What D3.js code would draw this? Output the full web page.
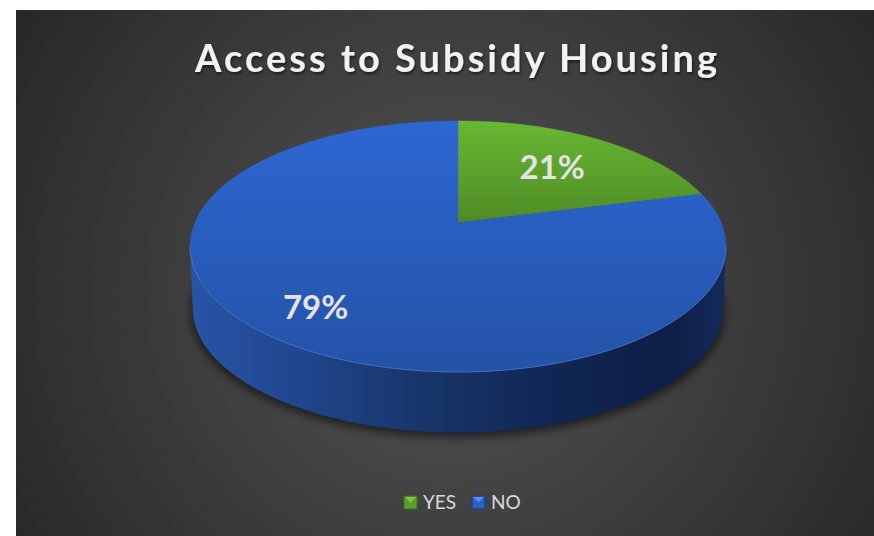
<!DOCTYPE html>
<html><head><meta charset="utf-8">
<script src="https://cdn.jsdelivr.net/npm/d3@7"></script>
<style>html,body{margin:0;padding:0;background:#fff;} svg{display:block;}</style>
</head><body>
<svg id="chart" width="874" height="536"></svg>
<script>
const chartTitle = "Access to Subsidy Housing";
const categories = ["YES", "NO"];
const values = [21, 79];
const percentLabels = ["21%", "79%"];

// ---- style / layout (not data) ----
const W = 874, H = 536;
const P = {cx: 458, cy: 222.7, a: 263.1, b: 121, k: 0.1896, depth: 62, bs: 0.99};
const labelRadius = [0.64, 0.78];
const topColors = {YES: ["#68b833", "#4e8a25"], NO: ["#2d67d2", "#2452a7"]};

const svg = d3.select("#chart");
const defs = svg.append("defs");

// background
const bg = defs.append("radialGradient").attr("id", "bg")
  .attr("gradientUnits", "userSpaceOnUse").attr("cx", 450).attr("cy", 290).attr("r", 540);
bg.append("stop").attr("offset", 0).attr("stop-color", "#555555");
bg.append("stop").attr("offset", 1).attr("stop-color", "#252525");
svg.append("rect").attr("x", 16).attr("y", 10).attr("width", W - 16).attr("height", H - 10).attr("fill", "url(#bg)");

// filters
const sh = defs.append("filter").attr("id", "blur").attr("x", "-20%").attr("y", "-20%").attr("width", "140%").attr("height", "140%");
sh.append("feGaussianBlur").attr("stdDeviation", 4);
const ts = defs.append("filter").attr("id", "tshadow").attr("x", "-10%").attr("y", "-30%").attr("width", "120%").attr("height", "160%");
ts.append("feDropShadow").attr("dx", 1).attr("dy", 2).attr("stdDeviation", 1.5).attr("flood-color", "#000").attr("flood-opacity", 0.55);

// gradients for top faces
Object.entries(topColors).forEach(([key, c]) => {
  const g = defs.append("linearGradient").attr("id", "top" + key)
    .attr("gradientUnits", "userSpaceOnUse").attr("x1", 0).attr("x2", 0)
    .attr("y1", 121).attr("y2", key === "YES" ? 225 : 372);
  g.append("stop").attr("offset", 0).attr("stop-color", c[0]);
  g.append("stop").attr("offset", 1).attr("stop-color", c[1]);
});
const sideStops = {
  NO: [[0, "#2854a8"], [0.2, "#2249956"], [0.45, "#173468"], [0.7, "#102552"], [0.9, "#0e1f46"], [1, "#142a5c"]],
  YES: [[0, "#4e8a25"], [0.5, "#3a6a1c"], [1, "#2c5414"]]
};
sideStops.NO[1][1] = "#21468e";
Object.entries(sideStops).forEach(([key, st]) => {
  const g = defs.append("linearGradient").attr("id", "side" + key)
    .attr("gradientUnits", "userSpaceOnUse").attr("x1", 190).attr("x2", 726).attr("y1", 0).attr("y2", 0);
  st.forEach(s => g.append("stop").attr("offset", s[0]).attr("stop-color", s[1]));
});

function proj(t, r, bottom) {
  const u = r * Math.sin(t), v = r * Math.cos(t), d = 1 + P.k * v;
  const s = bottom ? P.bs : 1;
  return [P.cx + s * P.a * u / d, P.cy - s * P.b * v / d + (bottom ? P.depth : 0)];
}
function samples(t0, t1) {
  const n = Math.max(2, Math.ceil(Math.abs(t1 - t0) / 0.01));
  return d3.range(n + 1).map(i => t0 + (t1 - t0) * i / n);
}
const line = d3.line().curve(d3.curveLinear);

const pie = d3.pie().sort(null).value(d => d.value);
const arcs = pie(categories.map((c, i) => ({cat: c, value: values[i], label: percentLabels[i]})));

// silhouette angles
const kk = P.k, sq = Math.sqrt(1 - kk * kk);
const tR = Math.atan2(sq, -kk);            // right tangent
const tL = 2 * Math.PI - tR;               // left tangent

// shadow
const shadowPts = samples(0, 2 * Math.PI).map(t => { const p = proj(t, 1.005, true); return [p[0], p[1] + 4]; });
svg.append("path").attr("d", line(shadowPts) + "Z").attr("fill", "#000").attr("opacity", 0.55).attr("filter", "url(#blur)");

// sides
const gSide = svg.append("g");
arcs.forEach(a => {
  const t0 = Math.max(a.startAngle, tR), t1 = Math.min(a.endAngle, tL);
  if (t1 <= t0) return;
  const topPts = samples(t0, t1).map(t => proj(t, 1, false));
  const botPts = samples(t1, t0).map(t => proj(t, 1, true));
  gSide.append("path").attr("d", line(topPts.concat(botPts)) + "Z")
    .attr("fill", "url(#side" + a.data.cat + ")");
});

// top faces
const gTop = svg.append("g");
arcs.forEach(a => {
  const pts = [proj(0, 0, false)].concat(samples(a.startAngle, a.endAngle).map(t => proj(t, 1, false)));
  gTop.append("path").attr("d", line(pts) + "Z").attr("fill", "url(#top" + a.data.cat + ")")
    .attr("stroke", "url(#top" + a.data.cat + ")").attr("stroke-width", 0.5);
});
// rim highlight on front edge
svg.append("path").attr("d", line(samples(tR, tL).map(t => proj(t, 1, false))))
  .attr("fill", "none").attr("stroke", "#5a8ee6").attr("stroke-width", 1).attr("opacity", 0.55);

// labels
arcs.forEach((a, i) => {
  const mid = (a.startAngle + a.endAngle) / 2;
  const p = proj(mid, labelRadius[i], false);
  svg.append("text").attr("x", p[0]).attr("y", p[1]).attr("dy", "0.36em")
    .attr("text-anchor", "middle").attr("font-family", "Lato, 'Open Sans', sans-serif")
    .attr("font-weight", 700).attr("font-size", 33).attr("fill", "#e3e3e3")
    .text(a.data.label);
});

// title
svg.append("text").attr("x", 456).attr("y", 72).attr("text-anchor", "middle")
  .attr("font-family", "Lato, 'Open Sans', sans-serif").attr("font-weight", 700)
  .attr("font-size", 38).attr("fill", "#f2f2f2").attr("filter", "url(#tshadow)")
  .attr("textLength", 522).attr("lengthAdjust", "spacing")
  .text(chartTitle);

// legend
const legendColors = {YES: ["#7cc84a", "#5a9e2f", "#3d6e1f"], NO: ["#5a8fe6", "#2d5fc4", "#1b3c86"]};
const legX = d3.scalePoint().domain(categories).range([404, 472]);
const gLeg = svg.append("g");
categories.forEach(c => {
  const x = legX(c), y = 496, s = 13;
  const col = legendColors[c];
  gLeg.append("rect").attr("x", x).attr("y", y).attr("width", s).attr("height", s).attr("fill", col[1])
    .attr("stroke", col[2]).attr("stroke-width", 1);
  gLeg.append("path").attr("d", `M${x + 1},${y + 1}L${x + s - 1},${y + 1}L${x + s / 2},${y + s / 2}Z`).attr("fill", col[0]);
  gLeg.append("text").attr("x", x + s + 6).attr("y", y + 13).attr("font-family", "Lato, 'Open Sans', sans-serif")
    .attr("font-size", 19).attr("fill", "#d9d9d9").text(c);
});
</script>
</body></html>
